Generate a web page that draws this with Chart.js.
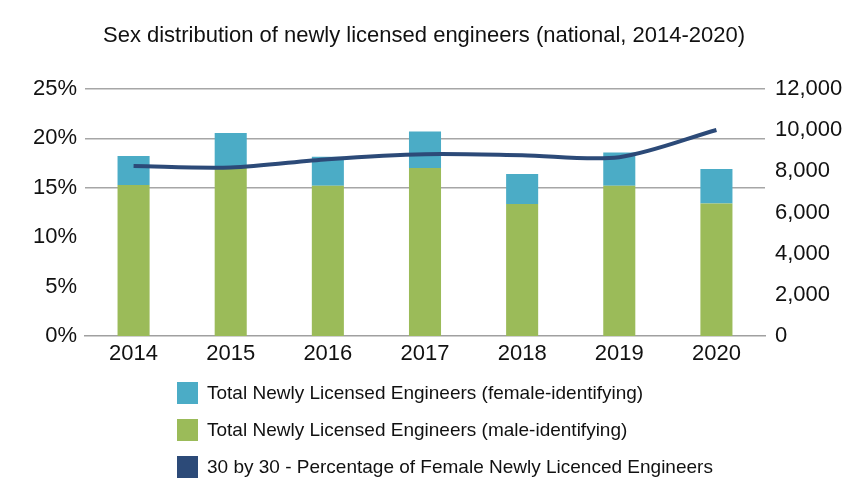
<!DOCTYPE html>
<html>
<head>
<meta charset="utf-8">
<script src="https://cdn.jsdelivr.net/npm/chart.js@4.4.1/dist/chart.umd.min.js"></script>
<style>
html,body{margin:0;padding:0;background:#fff;}
#wrap{width:850px;height:503px;position:relative;}
</style>
</head>
<body>
<div id="wrap"><canvas id="c" width="850" height="503"></canvas></div>
<script>
const years = ['2014','2015','2016','2017','2018','2019','2020'];
const maleCounts = [7330, 8160, 7300, 8160, 6410, 7300, 6440];
const femaleCounts = [1410, 1700, 1410, 1780, 1460, 1620, 1670];
const femalePercent = [17.2, 17.06, 17.9, 18.4, 18.3, 18.1, 20.85];
const titleText = 'Sex distribution of newly licensed engineers (national, 2014-2020)';
const legendLabels = [
  'Total Newly Licensed Engineers (female-identifying)',
  'Total Newly Licensed Engineers (male-identifying)',
  '30 by 30 - Percentage of Female Newly Licenced Engineers'
];

const FONT = '"Liberation Sans", Arial, Helvetica, sans-serif';
const C_FEMALE = '#4BACC6';
const C_MALE = '#9BBB59';
const C_LINE = '#2C4A78';

const titleLegendPlugin = {
  id: 'titleLegend',
  afterDraw(chart) {
    const ctx = chart.ctx;
    ctx.save();
    ctx.fillStyle = '#111';
    ctx.font = '22px ' + FONT;
    ctx.textAlign = 'center';
    ctx.textBaseline = 'middle';
    ctx.fillText(titleText, 424, 36);
    const colors = [C_FEMALE, C_MALE, C_LINE];
    const ys = [393, 430, 467];
    ctx.font = '19px ' + FONT;
    ctx.textAlign = 'left';
    for (let i = 0; i < 3; i++) {
      ctx.fillStyle = colors[i];
      ctx.fillRect(177, ys[i] - 11, 21, 22);
      ctx.fillStyle = '#111';
      ctx.fillText(legendLabels[i], 207, ys[i] + 1);
    }
    ctx.restore();
  }
};

new Chart(document.getElementById('c'), {
  type: 'bar',
  data: {
    labels: years,
    datasets: [
      {
        type: 'line',
        label: legendLabels[2],
        data: femalePercent,
        yAxisID: 'y',
        borderColor: C_LINE,
        backgroundColor: C_LINE,
        borderWidth: 4,
        pointRadius: 0,
        tension: 0.3,
        order: 0
      },
      {
        label: legendLabels[1],
        data: maleCounts,
        yAxisID: 'y1',
        backgroundColor: C_MALE,
        stack: 's',
        order: 1,
        categoryPercentage: 1,
        barPercentage: 0.33
      },
      {
        label: legendLabels[0],
        data: femaleCounts,
        yAxisID: 'y1',
        backgroundColor: C_FEMALE,
        stack: 's',
        order: 1,
        categoryPercentage: 1,
        barPercentage: 0.33
      }
    ]
  },
  options: {
    responsive: false,
    animation: false,
    layout: { padding: { top: 89, bottom: 137, left: 0, right: 0 } },
    plugins: { legend: { display: false }, title: { display: false }, tooltip: { enabled: false } },
    scales: {
      x: {
        stacked: true,
        grid: { display: false, drawTicks: false },
        border: { display: true, color: '#a0a0a0', width: 1.5 },
        ticks: { color: '#111', font: { family: FONT, size: 22 }, padding: 5 },
        afterFit(s) { s.height = 30; }
      },
      y: {
        position: 'left',
        min: 0, max: 25,
        ticks: { stepSize: 5, color: '#111', font: { family: FONT, size: 22 }, padding: 8, callback: v => v + '%' },
        grid: { drawTicks: false, color: c => (c.tick && c.tick.value >= 15) ? '#a6a6a6' : 'rgba(0,0,0,0)', lineWidth: 1.5 },
        border: { display: false },
        afterFit(s) { s.width = 85; }
      },
      y1: {
        position: 'right',
        stacked: true,
        min: 0, max: 12000,
        ticks: { stepSize: 2000, color: '#111', font: { family: FONT, size: 22 }, padding: 10,
          callback: v => v.toLocaleString('en-US') },
        grid: { display: false, drawTicks: false },
        border: { display: false },
        afterFit(s) { s.width = 85; }
      }
    }
  },
  plugins: [titleLegendPlugin]
});
</script>
</body>
</html>
